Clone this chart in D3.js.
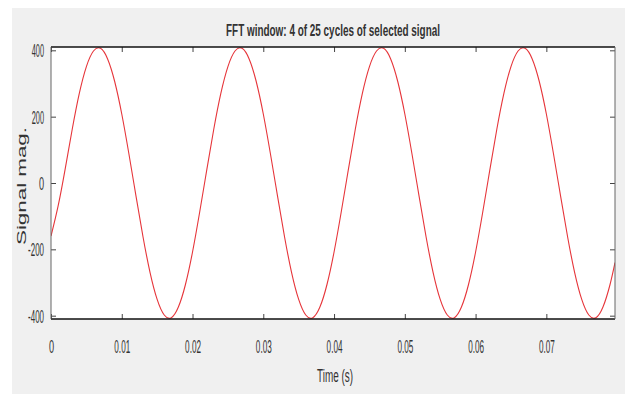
<!doctype html>
<html>
<head>
<meta charset="utf-8">
<style>
    body { margin: 0; background: #fff; }
    svg { display: block; }
    .tick line { stroke: #444; stroke-width: 1; }
    .lbl { font-family: "Liberation Sans Narrow", "Liberation Sans", Arial, sans-serif; fill: #333; }
</style>
<script src="https://d3js.org/d3.v7.min.js"></script>
</head>
<body>
<svg width="625" height="394"></svg>
<script>

// sample times (s) and signal magnitude
var time = [0, 0.001, 0.002, 0.003, 0.004, 0.005, 0.006, 0.007, 0.008, 0.009,
            0.010, 0.011, 0.012, 0.013, 0.014, 0.015, 0.016, 0.017, 0.018, 0.019,
            0.020, 0.021, 0.022, 0.023, 0.024, 0.025, 0.026, 0.027, 0.028, 0.029,
            0.030, 0.031, 0.032, 0.033, 0.034, 0.035, 0.036, 0.037, 0.038, 0.039,
            0.040, 0.041, 0.042, 0.043, 0.044, 0.045, 0.046, 0.047, 0.048, 0.049,
            0.050, 0.051, 0.052, 0.053, 0.054, 0.055, 0.056, 0.057, 0.058, 0.059,
            0.060, 0.061, 0.062, 0.063, 0.064, 0.065, 0.066, 0.067, 0.068, 0.069,
            0.070, 0.071, 0.072, 0.073, 0.074, 0.075, 0.076, 0.077, 0.078, 0.079,
            0.0797];
var signal = [-160, -70, 42, 162, 270, 351, 398, 406, 374, 306,
              208, 89, -38, -162, -270, -351, -398, -406, -374, -306,
              -208, -89, 38, 162, 270, 351, 398, 406, 374, 306,
              208, 89, -38, -162, -270, -351, -398, -406, -374, -306,
              -208, -89, 38, 162, 270, 351, 398, 406, 374, 306,
              208, 89, -38, -162, -270, -351, -398, -406, -374, -306,
              -208, -89, 38, 162, 270, 351, 398, 406, 374, 306,
              208, 89, -38, -162, -270, -351, -398, -406, -374, -306,
              -240];

var xTicks = [0, 0.01, 0.02, 0.03, 0.04, 0.05, 0.06, 0.07];
var xTickLabels = ["0", "0.01", "0.02", "0.03", "0.04", "0.05", "0.06", "0.07"];
var yTicks = [-400, -200, 0, 200, 400];
var yTickLabels = ["-400", "-200", "0", "200", "400"];

var svg = d3.select("svg"),
    margin = {top: 47, right: 10, bottom: 75, left: 51},
    width = 625 - margin.left - margin.right,
    height = 394 - margin.top - margin.bottom;

// figure background
svg.append("rect")
   .attr("x", 12).attr("y", 8)
   .attr("width", 625 - 12).attr("height", 394 - 8)
   .attr("fill", "#f0f0f0");

var x = d3.scaleLinear().domain([0, 0.0797]).range([0, width]),
    y = d3.scaleLinear().domain([-410, 410]).range([height, 0]);

var g = svg.append("g")
        .attr("transform", "translate(" + margin.left + "," + margin.top + ")");

g.append("rect")
 .attr("width", width).attr("height", height)
 .attr("fill", "#fff");

function labelLen(s) {
    // squeezed tick text like the original figure
    return s.length * 3.6 + 1.5;
}

// ticks on all four sides, pointing inward
var bottomAxis = g.append("g")
    .attr("transform", "translate(0," + height + ")")
    .call(d3.axisBottom(x).tickValues(xTicks)
        .tickFormat(function(d, i) { return xTickLabels[i]; })
        .tickSizeInner(-5).tickSizeOuter(0));
bottomAxis.selectAll("text")
    .attr("class", "lbl")
    .attr("y", 34).attr("dy", 0)
    .attr("font-size", 19)
    .attr("textLength", function(d, i) { return labelLen(xTickLabels[i]); })
    .attr("lengthAdjust", "spacingAndGlyphs");

g.append("g")
 .call(d3.axisTop(x).tickValues(xTicks).tickFormat("")
     .tickSizeInner(-5).tickSizeOuter(0));

var leftAxis = g.append("g")
    .call(d3.axisLeft(y).tickValues(yTicks)
        .tickFormat(function(d, i) { return yTickLabels[i]; })
        .tickSizeInner(-5).tickSizeOuter(0));
leftAxis.selectAll("text")
    .attr("class", "lbl")
    .attr("x", -7).attr("dy", "0.36em")
    .attr("font-size", 18)
    .attr("textLength", function(d, i) { return labelLen(yTickLabels[i]); })
    .attr("lengthAdjust", "spacingAndGlyphs");

g.append("g")
 .attr("transform", "translate(" + width + ",0)")
 .call(d3.axisRight(y).tickValues(yTicks).tickFormat("")
     .tickSizeInner(-5).tickSizeOuter(0));

g.selectAll(".domain").remove();

// signal
g.append("clipPath").attr("id", "clip")
 .append("rect").attr("width", width).attr("height", height);

var line = d3.line()
    .x(function(d, i) { return x(time[i]); })
    .y(function(d) { return y(d); })
    .curve(d3.curveNatural);

g.append("path")
 .datum(signal)
 .attr("clip-path", "url(#clip)")
 .attr("fill", "none")
 .attr("stroke", "#e6353a")
 .attr("stroke-width", 1.1)
 .attr("d", line);

// axes box
g.append("line").attr("x1", 0).attr("x2", width).attr("y1", 0).attr("y2", 0)
 .attr("stroke", "#111").attr("stroke-width", 1.6);
g.append("line").attr("x1", 0).attr("x2", width).attr("y1", height).attr("y2", height)
 .attr("stroke", "#111").attr("stroke-width", 1.6);
g.append("line").attr("x1", 0).attr("x2", 0).attr("y1", 0).attr("y2", height)
 .attr("stroke", "#666").attr("stroke-width", 1);
g.append("line").attr("x1", width).attr("x2", width).attr("y1", 0).attr("y2", height)
 .attr("stroke", "#666").attr("stroke-width", 1);

// title and axis labels
svg.append("text")
   .attr("class", "lbl")
   .attr("x", margin.left + width / 2)
   .attr("y", 36)
   .attr("text-anchor", "middle")
   .attr("font-size", 16)
   .attr("font-weight", "bold")
   .attr("fill", "#111")
   .attr("textLength", 214)
   .attr("lengthAdjust", "spacingAndGlyphs")
   .text("FFT window: 4 of 25 cycles of selected signal");

svg.append("text")
   .attr("class", "lbl")
   .attr("x", margin.left + width / 2 + 2)
   .attr("y", 382)
   .attr("text-anchor", "middle")
   .attr("font-size", 18)
   .attr("textLength", 36)
   .attr("lengthAdjust", "spacingAndGlyphs")
   .text("Time (s)");

svg.append("text")
   .attr("class", "lbl")
   .attr("transform", "translate(26," + (margin.top + height / 2 + 3) + ") rotate(-90)")
   .attr("text-anchor", "middle")
   .attr("font-size", 12)
   .attr("fill", "#555")
   .style("font-family", "'Liberation Sans', Arial, sans-serif")
   .attr("textLength", 118)
   .attr("lengthAdjust", "spacingAndGlyphs")
   .text("Signal mag.");

</script>
</body>
</html>
